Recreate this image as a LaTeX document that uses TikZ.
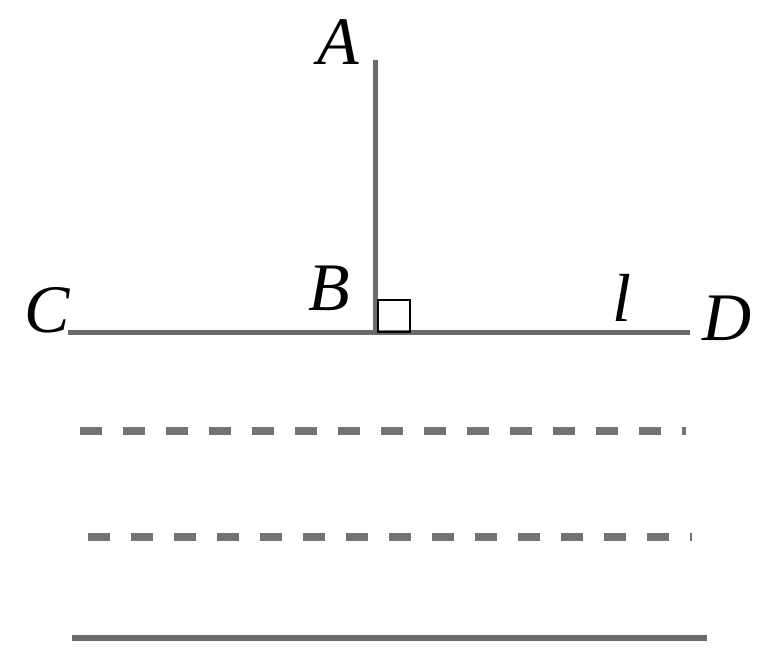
\documentclass[tikz,border=0pt]{standalone}
\usepackage{fontspec}
\setmainfont{Liberation Serif}
\usepackage{tikz}
\usetikzlibrary{positioning, calc}

\tikzset{
  seg/.style={draw=black!58, line width=1.25pt},
  dashseg/.style={draw=black!55, line width=1.85pt, dash pattern=on 5.5pt off 5.25pt},
  lab/.style={font=\fontsize{17}{20}\selectfont\itshape, inner sep=0pt},
}

\begin{document}
\begin{tikzpicture}[x=0.25pt, y=-0.25pt]
\useasboundingbox (0,0) rectangle (763,672);
% points of the figure
\coordinate (a) at (376,60);
\coordinate (b) at (376,333);
\coordinate (c) at (68,333);
\coordinate (d) at (690,333);
% labels
\node[lab] (la) at (338,42) {A};
\node[lab] (lb) at (329,288) {B};
\node[lab] (lc) at (47,310) {C};
\node[lab] (ld) at (727,318) {D};
\node[lab] (ll) at (622,298) {l};
% perpendicular lines
\draw[seg] (a) -- (b);
\draw[seg] (c) -- (d);
\draw[black, line width=0.7pt] ($(b)+(2,-1)$) rectangle ($(b)+(34,-33)$);
% lines below
\coordinate (p1) at (80,431);  \coordinate (q1) at (686,431);
\coordinate (p2) at (88,537);  \coordinate (q2) at (692,537);
\coordinate (p3) at (72,638);  \coordinate (q3) at (707,638);
\foreach \k in {1,2}
  \draw[dashseg] (p\k) -- (q\k);
\draw[seg, line width=1.6pt] (p3) -- (q3);
\end{tikzpicture}
\end{document}
